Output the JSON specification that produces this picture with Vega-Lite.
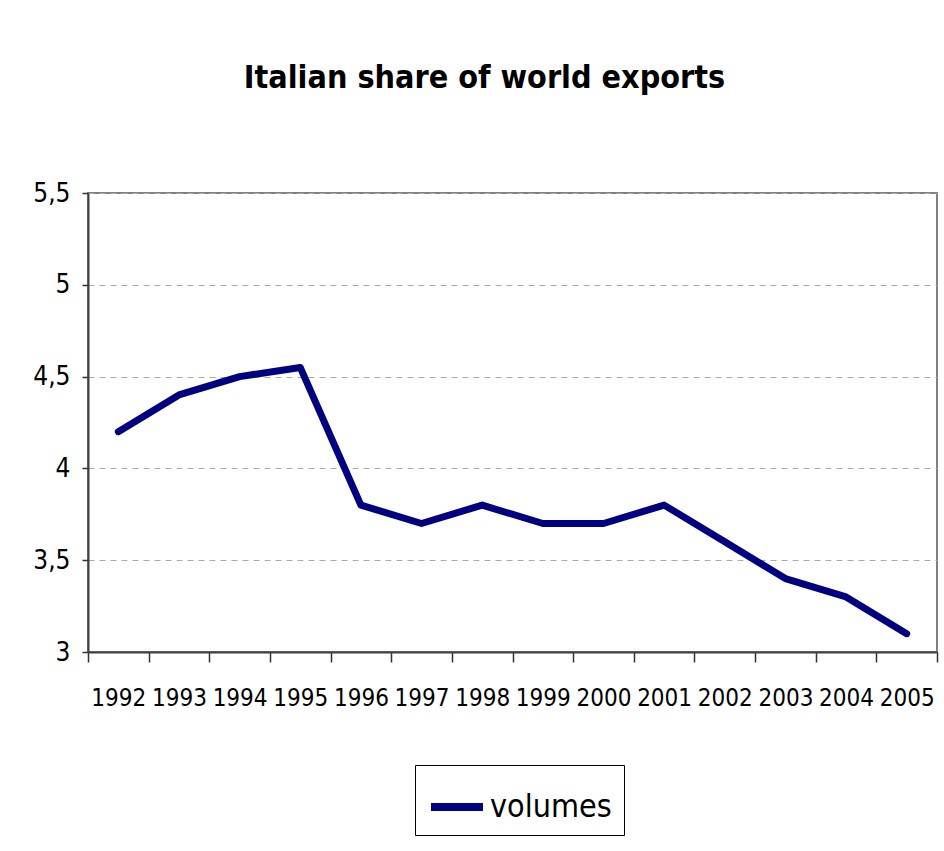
{
  "$schema": "https://vega.github.io/schema/vega-lite/v6.json",
  "autosize": {"type": "none"},
  "width": 849,
  "height": 459,
  "padding": {"left": 88, "top": 193, "right": 7, "bottom": 199},
  "background": "white",
  "title": {
    "text": "Italian share of world exports",
    "font": "Liberation Sans Narrow, DejaVu Sans Condensed, Roboto Condensed, Liberation Sans",
    "fontSize": 32,
    "fontWeight": "bold",
    "color": "black",
    "anchor": "middle",
    "baseline": "alphabetic",
    "offset": 60,
    "dx": -28
  },
  "data": {
    "values": [
      {"year": "1992", "share": 4.2, "series": "volumes"},
      {"year": "1993", "share": 4.4, "series": "volumes"},
      {"year": "1994", "share": 4.5, "series": "volumes"},
      {"year": "1995", "share": 4.55, "series": "volumes"},
      {"year": "1996", "share": 3.8, "series": "volumes"},
      {"year": "1997", "share": 3.7, "series": "volumes"},
      {"year": "1998", "share": 3.8, "series": "volumes"},
      {"year": "1999", "share": 3.7, "series": "volumes"},
      {"year": "2000", "share": 3.7, "series": "volumes"},
      {"year": "2001", "share": 3.8, "series": "volumes"},
      {"year": "2002", "share": 3.6, "series": "volumes"},
      {"year": "2003", "share": 3.4, "series": "volumes"},
      {"year": "2004", "share": 3.3, "series": "volumes"},
      {"year": "2005", "share": 3.1, "series": "volumes"}
    ]
  },
  "mark": {"type": "line", "strokeWidth": 7, "strokeCap": "round", "strokeJoin": "round"},
  "encoding": {
    "x": {
      "field": "year",
      "type": "ordinal",
      "scale": {"type": "band", "paddingInner": 0, "paddingOuter": 0},
      "axis": {
        "title": null,
        "labelAngle": 0,
        "tickBand": "extent",
        "tickSize": 10,
        "tickColor": "#333333",
        "tickWidth": 1.5,
        "domainColor": "#404040",
        "domainWidth": 2,
        "labelFont": "Liberation Sans Narrow, DejaVu Sans Condensed, Roboto Condensed, Liberation Sans",
        "labelFontSize": 24,
        "labelColor": "black",
        "labelPadding": 24,
        "labelOverlap": false,
        "grid": false
      }
    },
    "y": {
      "field": "share",
      "type": "quantitative",
      "scale": {"domain": [3, 5.5], "nice": false, "zero": false},
      "axis": {
        "title": null,
        "values": [3, 3.5, 4, 4.5, 5, 5.5],
        "labelExpr": "replace(format(datum.value, '.1~f'), '.', ',')",
        "tickSize": 6,
        "tickColor": "#333333",
        "tickWidth": 1.5,
        "domainColor": "#404040",
        "domainWidth": 2,
        "labelFont": "Liberation Sans Narrow, DejaVu Sans Condensed, Roboto Condensed, Liberation Sans",
        "labelFontSize": 26,
        "labelColor": "black",
        "labelPadding": 12,
        "grid": true,
        "gridColor": "#aaaaaa",
        "gridDash": [6, 5],
        "gridWidth": 1
      }
    },
    "color": {
      "field": "series",
      "type": "nominal",
      "scale": {"range": ["#000080"]},
      "legend": {
        "title": null,
        "orient": "none",
        "legendX": 327,
        "legendY": 572,
        "padding": 12,
        "strokeColor": "black",
        "symbolType": "stroke",
        "symbolStrokeWidth": 8,
        "symbolSize": 2704,
        "labelFont": "Liberation Sans Narrow, DejaVu Sans Condensed, Roboto Condensed, Liberation Sans",
        "labelFontSize": 32,
        "labelColor": "black",
        "labelOffset": 3,
        "rowPadding": 0
      }
    }
  },
  "config": {
    "view": {"stroke": "#808080", "strokeWidth": 2},
    "legend": {"strokeWidth": 1}
  }
}
